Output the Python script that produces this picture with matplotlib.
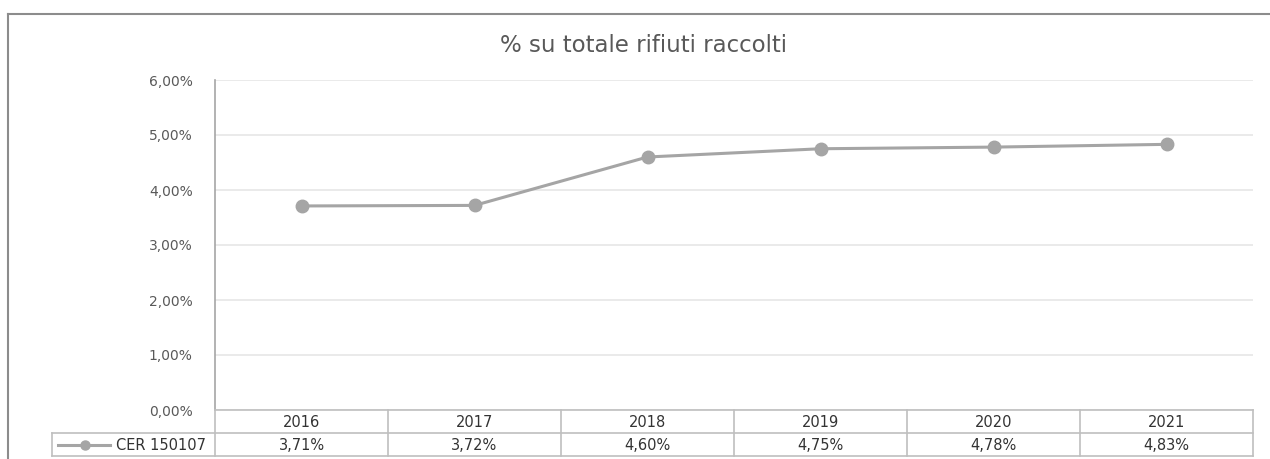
import matplotlib
matplotlib.use("Agg")
import matplotlib.pyplot as plt
from matplotlib.lines import Line2D
from matplotlib.ticker import FuncFormatter

# data
years = ["2016", "2017", "2018", "2019", "2020", "2021"]
share = [3.71, 3.72, 4.60, 4.75, 4.78, 4.83]
series_name = "CER 150107"
title = "% su totale rifiuti raccolti"

W, H = 1270, 459
line_col = "#A5A5A5"
grid_col = "#E6E6E6"
border_col = "#BFBFBF"
text_col = "#595959"
cell_txt = "#333333"

plt.rcParams["font.family"] = ["DejaVu Sans"]

fig = plt.figure(figsize=(W / 100, H / 100), dpi=100)


def px(x, y):
    # pixel coords (top-left origin) -> figure fraction
    return x / W, 1 - y / H


# plot area in pixels
x0, x1 = 215, 1253
y_top, y_bot = 80, 410
ax = fig.add_axes([x0 / W, 1 - y_bot / H, (x1 - x0) / W, (y_bot - y_top) / H])

xs = list(range(len(years)))
ax.plot(xs, share, color=line_col, lw=2.2, marker="o", ms=9,
        markeredgecolor=line_col, markerfacecolor=line_col, zorder=3)
ax.set_xlim(-0.5, len(years) - 0.5)
ax.set_ylim(0, 6)
ax.set_yticks([0, 1, 2, 3, 4, 5, 6])
ax.yaxis.set_major_formatter(FuncFormatter(lambda v, p: f"{v:.2f}%".replace(".", ",")))
ax.tick_params(axis="y", length=0, pad=16, labelsize=10, labelcolor=text_col)
ax.set_xticks([])
ax.grid(axis="y", color=grid_col, lw=1.2)
ax.set_axisbelow(True)
for s in ["top", "right", "bottom"]:
    ax.spines[s].set_visible(False)
ax.spines["left"].set_color(line_col)
ax.spines["left"].set_linewidth(1.2)

fig.text(*px(644, 45), title, ha="center", va="center",
         fontsize=16.5, color=text_col)

# outer chart border (top and left)
fig.add_artist(Line2D([px(8, 0)[0], 1], [px(0, 14)[1]] * 2, color="#8C8C8C", lw=1.5))
fig.add_artist(Line2D([px(8, 0)[0]] * 2, [px(0, 14)[1], 0], color="#8C8C8C", lw=1.5))

# data table below the axis
row1, row2, row3 = 410, 433, 456
cw = (x1 - x0) / len(years)


def hline(xa, xb, y):
    fig.add_artist(Line2D([px(xa, 0)[0], px(xb, 0)[0]], [px(0, y)[1]] * 2,
                          color=border_col, lw=1.2))


def vline(x, ya, yb):
    fig.add_artist(Line2D([px(x, 0)[0]] * 2, [px(0, ya)[1], px(0, yb)[1]],
                          color=border_col, lw=1.2))


hline(x0, x1, row1)
hline(52, x1, row2)
hline(52, x1, row3)
vline(52, row2, row3)
vline(x0, y_bot, row3)
for i in range(1, len(years) + 1):
    vline(x0 + i * cw, row1, row3)

for i, (yr, v) in enumerate(zip(years, share)):
    cx = x0 + (i + 0.5) * cw
    fig.text(*px(cx, (row1 + row2) / 2 + 1), yr, ha="center", va="center",
             fontsize=10.5, color=cell_txt)
    fig.text(*px(cx, (row2 + row3) / 2 + 1), f"{v:.2f}%".replace(".", ","),
             ha="center", va="center", fontsize=10.5, color=cell_txt)

# legend key in the table
ky = (row2 + row3) / 2
fig.add_artist(Line2D([px(58, 0)[0], px(110, 0)[0]], [px(0, ky)[1]] * 2,
                      color=line_col, lw=2.2))
fig.add_artist(Line2D([px(85, 0)[0]], [px(0, ky)[1]], color=line_col,
                      marker="o", ms=6.5, lw=0))
fig.text(*px(116, ky + 1), series_name, ha="left", va="center", fontsize=10.5,
         color=cell_txt)

fig.savefig("out.png", dpi=100)
